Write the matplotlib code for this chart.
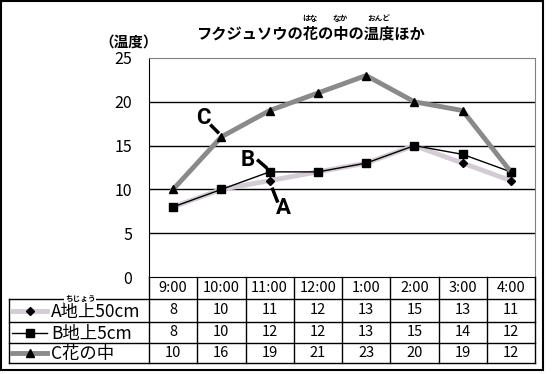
import matplotlib
matplotlib.use("Agg")
import matplotlib.pyplot as plt
from matplotlib.lines import Line2D
from matplotlib.patches import Rectangle

plt.rcParams['font.family'] = ['Noto Sans CJK JP', 'DejaVu Sans']

# --- data ---
times = ["9:00", "10:00", "11:00", "12:00", "1:00", "2:00", "3:00", "4:00"]
series_names = ["A地上50cm", "B地上5cm", "C花の中"]
temp_a = [8, 10, 11, 12, 13, 15, 13, 11]
temp_b = [8, 10, 12, 12, 13, 15, 14, 12]
temp_c = [10, 16, 19, 21, 23, 20, 19, 12]
y_ticks = [0, 5, 10, 15, 20, 25]

W, H = 552, 374
fig = plt.figure(figsize=(W / 100, H / 100), dpi=100)


def fx(x):
    return x / W


def fy(y):
    return 1 - y / H


# plot area (pixel layout)
ax = fig.add_axes([fx(149), fy(277), (535 - 149) / W, (277 - 58) / H])
xs = list(range(len(times)))
ax.set_xlim(-0.5, len(times) - 0.5)
ax.set_ylim(0, 25)

styles = [
    dict(color='#d4ccd4', lw=3.5, marker='D', ms=4, mfc='black', mec='black', zorder=3),
    dict(color='black', lw=1, marker='s', ms=6, mfc='black', mec='black', zorder=4),
    dict(color='#8a8a8a', lw=3.5, marker='^', ms=6, mfc='black', mec='black', zorder=5),
]
all_series = [temp_a, temp_b, temp_c]
for vals, st in zip(all_series, styles):
    ax.plot(xs, vals, clip_on=False, **st)

for t in y_ticks[1:-1]:
    ax.axhline(t, color='black', lw=1, zorder=1)

ax.set_yticks(y_ticks)
ax.set_yticklabels([str(t) for t in y_ticks], fontsize=11.5)
ax.tick_params(axis='y', length=0, pad=12)
ax.set_xticks([])
ax.spines['left'].set_color('black')
ax.spines['bottom'].set_color('black')
ax.spines['top'].set_color('#808080')
ax.spines['right'].set_color('#808080')

# pointer labels
letter_font = ['Liberation Sans Narrow', 'Roboto', 'DejaVu Sans']
ax.text(0.62, 18.2, "C", fontsize=16, fontweight='bold', ha='center', va='center',
        family=letter_font)
ax.plot([0.77, 0.95], [17.4, 16.4], color='black', lw=2.5, solid_capstyle='butt')
ax.text(1.55, 13.4, "B", fontsize=16, fontweight='bold', ha='center', va='center',
        family=letter_font)
ax.plot([1.74, 1.95], [13.4, 12.4], color='black', lw=2.5, solid_capstyle='butt')
ax.text(2.28, 7.9, "A", fontsize=16, fontweight='bold', ha='center', va='center',
        family=letter_font)
ax.plot([2.05, 2.17], [10.2, 8.5], color='black', lw=2.5, solid_capstyle='butt')

# title with furigana
title = fig.text(fx(310), fy(34), "フクジュソウの花の中の温度ほか", fontsize=11,
                 fontweight='bold', ha='center', va='center')
fig.canvas.draw()
bb = title.get_window_extent()
cw = bb.width / 15
for kana, i0, n in [("はな", 7, 1), ("なか", 9, 1), ("おんど", 11, 2)]:
    cx = bb.x0 + cw * (i0 + n / 2)
    fig.text(cx / W, fy(18), kana, fontsize=5.5, fontweight='bold', ha='center', va='center')

fig.text(fx(129), fy(42), "（温度）", fontsize=10.5, fontweight='bold', ha='center', va='center')

# data table under the plot
row_y = [277, 299, 322, 343, 363]
col_px = [ax.transData.transform((x - 0.5, 0))[0] for x in range(len(times) + 1)]
tbl_left = 9


def hline(x0, x1, y):
    fig.add_artist(Line2D([fx(x0), fx(x1)], [fy(y), fy(y)], transform=fig.transFigure,
                          color='black', lw=1))


def vline(x, y0, y1):
    fig.add_artist(Line2D([fx(x), fx(x)], [fy(y0), fy(y1)], transform=fig.transFigure,
                          color='black', lw=1))


for y in row_y[1:]:
    hline(tbl_left, col_px[-1], y)
vline(tbl_left, row_y[1], row_y[-1])
for cx in col_px:
    vline(cx, row_y[0], row_y[-1])

for i, t in enumerate(times):
    cx = (col_px[i] + col_px[i + 1]) / 2
    fig.text(fx(cx), fy((row_y[0] + row_y[1]) / 2), t, fontsize=10.5, ha='center', va='center')
    for r, vals in enumerate(all_series):
        cy = (row_y[r + 1] + row_y[r + 2]) / 2
        fig.text(fx(cx), fy(cy), str(vals[i]), fontsize=10.5, ha='center', va='center')

for r, (name, st) in enumerate(zip(series_names, styles)):
    cy = (row_y[r + 1] + row_y[r + 2]) / 2
    fig.add_artist(Line2D([fx(12), fx(30), fx(47)], [fy(cy)] * 3, transform=fig.transFigure,
                          markevery=[1], **st))
    fig.text(fx(51), fy(cy + 1), name, fontsize=12.5, ha='left', va='center')

fig.text(fx(80), fy(298), "ちじょう", fontsize=5.5, fontweight='bold', ha='center', va='center',
         bbox=dict(facecolor='white', edgecolor='none', pad=0.6), zorder=10)

# outer frame
fig.add_artist(Rectangle((fx(1), fy(370)), (543 - 1) / W, (370 - 1) / H,
                         transform=fig.transFigure, fill=False, lw=1.5, edgecolor='black'))

fig.savefig("out.png", dpi=100)
